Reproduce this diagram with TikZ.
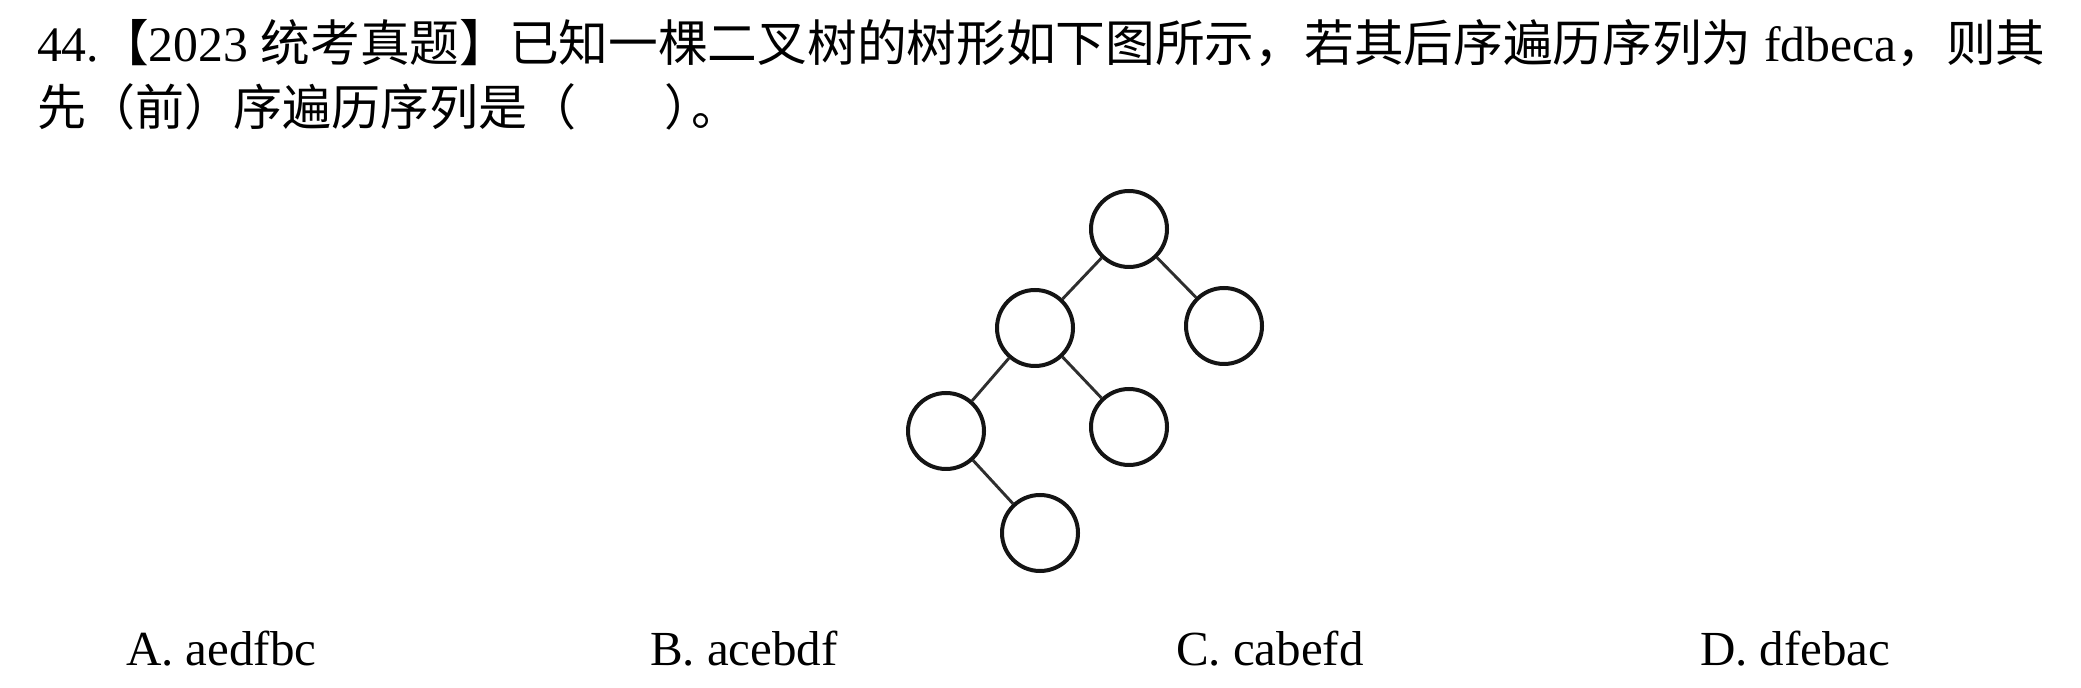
\documentclass[tikz,border=0pt]{standalone}
\usepackage{fontspec}
\setmainfont{Liberation Serif}
\newfontfamily\cjk{Noto Sans CJK SC}
\begin{document}
\begin{tikzpicture}[x=0.5pt,y=-0.5pt,
  txt/.style={anchor=base west,inner sep=0pt,outer sep=0pt,font=\fontsize{24.5pt}{30pt}\selectfont},
  tnode/.style={circle,draw=black!92,line width=2pt,minimum size=38pt,inner sep=0pt},
  tedge/.style={draw=black!82,line width=1.45pt}]
\useasboundingbox[fill=white] (0,0) rectangle (2081,688);
\node[txt,font=\fontsize{24.85pt}{30pt}\selectfont] (l1) at (37,62) {44.{\cjk 【}2023 {\cjk 统考真题】已知一棵二叉树的树形如下图所示，若其后序遍历序列为} fdbeca{\cjk ，则其}};
\node[txt] (l2) at (37,126) {{\cjk 先（前）序遍历序列是（}\hspace{1.8em}{\cjk ）\kern-0.45em。}};
\node[tnode] (r) at (1129,229) {};
\node[tnode] (a) at (1035,328) {};
\node[tnode] (b) at (1224,326) {};
\node[tnode] (c) at (946,431) {};
\node[tnode] (d) at (1129,427) {};
\node[tnode] (e) at (1040,533) {};
\draw[tedge] (r) -- (a);
\draw[tedge] (r) -- (b);
\draw[tedge] (a) -- (c);
\draw[tedge] (a) -- (d);
\draw[tedge] (c) -- (e);
\node[txt] (oa) at (126,666) {A. aedfbc};
\node[txt] (ob) at (650,666) {B. acebdf};
\node[txt] (oc) at (1176,666) {C. cabefd};
\node[txt] (od) at (1700,666) {D. dfebac};
\end{tikzpicture}
\end{document}
